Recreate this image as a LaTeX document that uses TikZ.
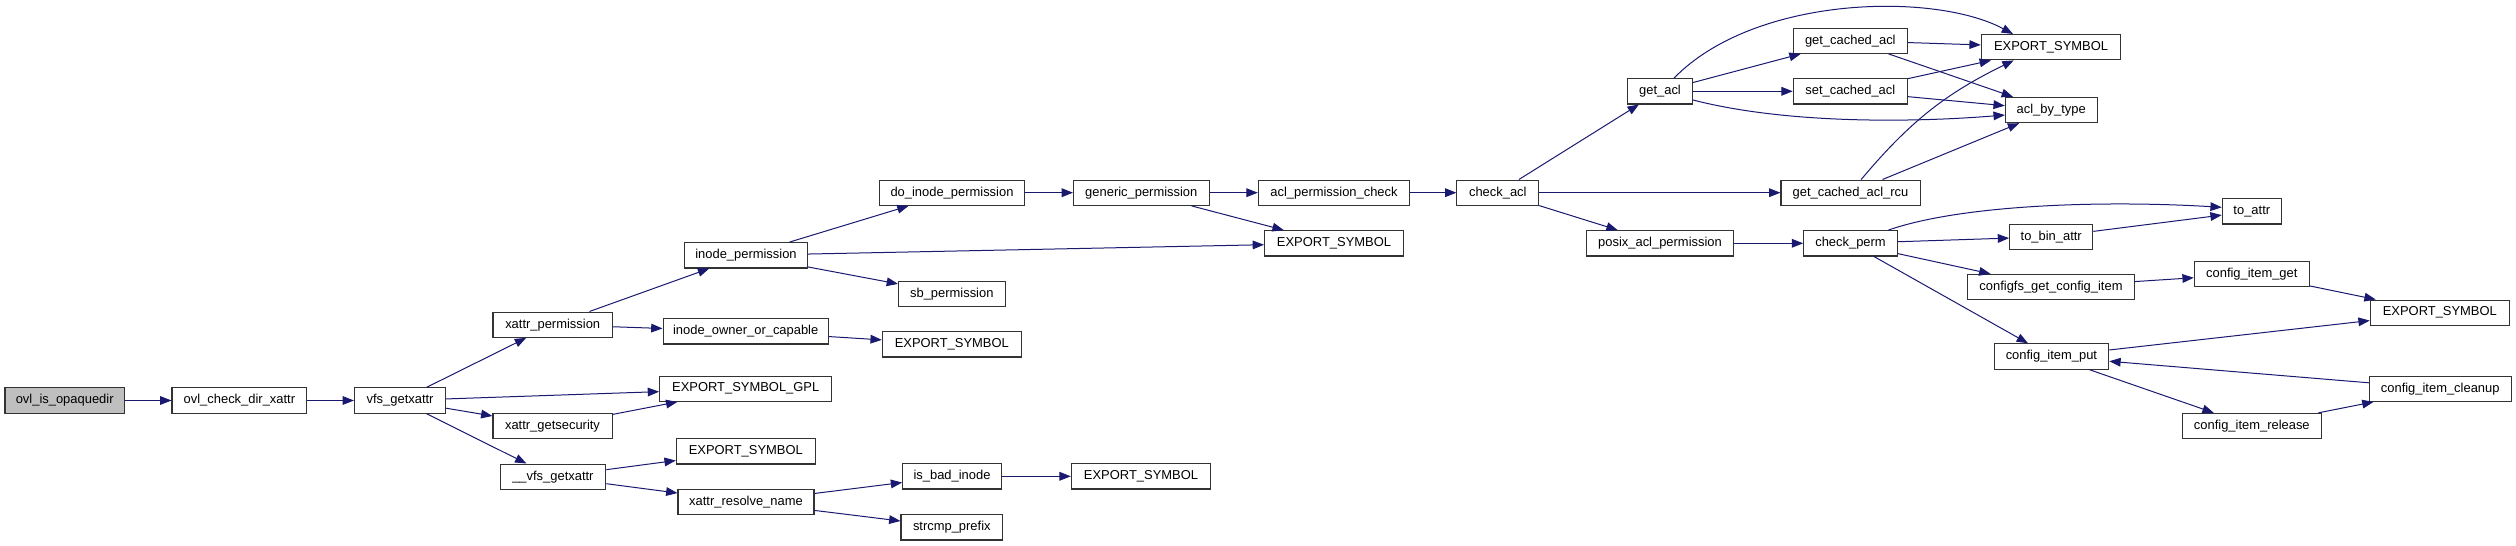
\documentclass[tikz,border=0pt]{standalone}
\usepackage{fontspec}
\setmainfont{Liberation Sans}
\usetikzlibrary{arrows.meta}
\definecolor{edgeblue}{HTML}{191970}
\definecolor{rootgrey}{HTML}{BFBFBF}

\begin{document}
\begin{tikzpicture}[x=0.75pt,y=-0.75pt,
    fn/.style={draw=black!80,line width=0.8pt,fill=white,minimum height=19pt,inner xsep=1pt,inner ysep=0pt,font=\fontsize{9.7}{11}\selectfont},
    call/.style={draw=edgeblue,line width=0.75pt,-{Triangle[length=8.5pt,width=6.5pt]}}]
    \useasboundingbox (0,0) rectangle (2516,546);
    \node[fn,fill=rootgrey,minimum width=89.6pt] (ovl) at (64.7,400.5) {ovl\_is\_opaquedir};
    \foreach \nm/\x/\y/\w/\lbl in {
        ocdx/239.4/400.5/101.1/ovl\_check\_dir\_xattr,
        vfsget/400.1/400.5/68.4/vfs\_getxattr,
        xperm/552.7/324.7/89.6/xattr\_permission,
        xsec/552.5/426/89.3/xattr\_getsecurity,
        uvfs/552.9/476.7/79.3/\_\_vfs\_getxattr,
        iperm/746/255.3/92/inode\_permission,
        iowner/745.7/331.3/124/inode\_owner\_or\_capable,
        esgpl/745.7/388.7/129.1/EXPORT\_SYMBOL\_GPL,
        esvfs/745.8/451.3/104.2/EXPORT\_SYMBOL,
        xresolve/746/502/102/xattr\_resolve\_name,
        doiperm/952/192.7/108.2/do\_inode\_permission,
        sbperm/951.8/294/79.9/sb\_permission,
        esowner/951.8/344.3/104.2/EXPORT\_SYMBOL,
        badinode/952/476.3/74/is\_bad\_inode,
        strcmp/951.8/527.3/76.2/strcmp\_prefix,
        genperm/1141.3/192.7/101.6/generic\_permission,
        esbad/1141/476.3/104.5/EXPORT\_SYMBOL,
        aclcheck/1334/192.7/113.5/acl\_permission\_check,
        esiperm/1334/243.3/104.2/EXPORT\_SYMBOL,
        checkacl/1497.8/192.7/61.3/check\_acl,
        getacl/1660/91.3/48.5/get\_acl,
        posixperm/1660/243.3/110.1/posix\_acl\_permission,
        getcached/1850.3/40.7/85.5/get\_cached\_acl,
        setcached/1850.3/91.3/85.5/set\_cached\_acl,
        cachedrcu/1850.5/192.7/104.3/get\_cached\_acl\_rcu,
        checkperm/1850.5/243.3/70.2/check\_perm,
        esacl/2051/47.2/104.6/EXPORT\_SYMBOL,
        aclbytype/2051.2/110/68.8/acl\_by\_type,
        tobin/2051.2/236.7/62.3/to\_bin\_attr,
        cfsget/2051/287/125/configfs\_get\_config\_item,
        itemput/2051.4/356.5/86/config\_item\_put,
        toattr/2251.8/211.3/44.3/to\_attr,
        itemget/2251.8/274/86.3/config\_item\_get,
        itemrelease/2251.8/426/104.3/config\_item\_release,
        escfg/2439.8/312.7/104.3/EXPORT\_SYMBOL,
        itemcleanup/2440.2/388.7/106.3/config\_item\_cleanup}
        \node[fn,minimum width=\w pt] (\nm) at (\x,\y) {\lbl};
    \foreach \a/\b in {ovl/ocdx,ocdx/vfsget,vfsget/xperm,vfsget/esgpl,vfsget/xsec,vfsget/uvfs,
        xperm/iperm,xperm/iowner,xsec/esgpl,uvfs/esvfs,uvfs/xresolve,
        iperm/doiperm,iperm/esiperm,iperm/sbperm,iowner/esowner,xresolve/badinode,xresolve/strcmp,badinode/esbad,
        doiperm/genperm,genperm/aclcheck,genperm/esiperm,aclcheck/checkacl,
        checkacl/getacl,checkacl/cachedrcu,checkacl/posixperm,getacl/getcached,getacl/setcached,
        getcached/esacl,getcached/aclbytype,setcached/esacl,setcached/aclbytype,cachedrcu/aclbytype,
        posixperm/checkperm,checkperm/tobin,checkperm/cfsget,checkperm/itemput,tobin/toattr,
        cfsget/itemget,itemget/escfg,itemput/escfg,itemput/itemrelease,itemrelease/itemcleanup,itemcleanup/itemput}
        \draw[call] (\a) -- (\b);
    \draw[call] ([xshift=10.5pt]getacl.north) .. controls (1755,-5) and (1935,-8) .. ([xshift=-28.5pt]esacl.north);
    \draw[call] ([yshift=-6.5pt]getacl.east) .. controls (1790,125) and (1920,122) .. ([yshift=-3.75pt]aclbytype.west);
    \draw[call] ([xshift=8pt]cachedrcu.north) to[bend left=12] ([xshift=-28pt]esacl.south);
    \draw[call] ([xshift=28.4pt]checkperm.north) .. controls (1960,205) and (2100,200) .. ([yshift=3pt]toattr.west);
\end{tikzpicture}
\end{document}
